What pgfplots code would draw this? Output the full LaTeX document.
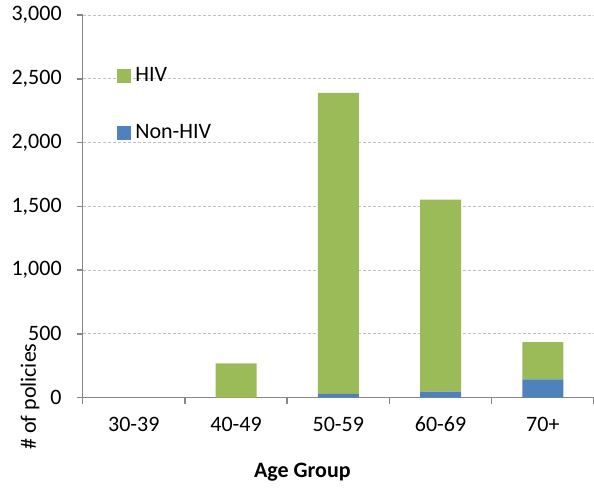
\documentclass[border=0pt]{standalone}
\usepackage{pgfplots}
\pgfplotsset{compat=1.18}
\usepackage{fontspec}
\setmainfont{Carlito}

\definecolor{hivgreen}{RGB}{155,187,89}
\definecolor{nonblue}{RGB}{79,129,189}
\definecolor{axisgray}{RGB}{134,134,134}
\definecolor{gridgray}{RGB}{191,191,191}

\begin{document}
\begin{tikzpicture}[font=\fontsize{11pt}{13pt}\selectfont]
\begin{axis}[
  scale only axis,
  width=255.65pt, height=191.35pt,
  ybar stacked, bar width=0.4,
  xmin=-0.5, xmax=4.5, ymin=0, ymax=3000,
  axis x line*=bottom, axis y line*=left,
  axis line style={axisgray, line width=0.75pt},
  xtick={-0.5,0.5,1.5,2.5,3.5,4.5},
  x tick label as interval,
  xticklabels={30-39,40-49,50-59,60-69,70+},
  ytick={0,500,...,3000},
  /pgf/number format/1000 sep={,},
  /pgf/number format/assume math mode=true,
  tick align=outside,
  major tick length=3pt,
  tick style={axisgray, line width=0.75pt},
  ymajorgrids,
  grid style={gridgray, dash pattern=on 1.5pt off 1pt, line width=0.5pt},
  yticklabel style={xshift=-4pt},
  xticklabel style={yshift=-3pt},
  xlabel={\textbf{Age Group}},
  xlabel style={at={(axis description cs:0.5,0)}, anchor=center, xshift=-18pt, yshift=-37pt},
  ylabel={\# of policies},
  ylabel style={at={(axis description cs:-0.103,0.003)}, anchor=center},
  reverse legend,
  legend cell align=left,
  legend style={at={(axis description cs:0.067,0.875)}, anchor=north west,
    draw=none, fill=none, inner sep=0pt, row sep=16pt},
  legend image code/.code={\fill[#1,draw=none] (0pt,-3.5pt) rectangle (7pt,3.5pt);},
]
% bottom segment: non-HIV policies
\addplot[fill=nonblue, draw=none] coordinates {(0,0) (1,0) (2,30) (3,47) (4,144)};
% top segment: HIV policies
\addplot[fill=hivgreen, draw=none] coordinates {(0,0) (1,270) (2,2360) (3,1505) (4,291)};
\legend{Non-HIV, HIV}
\end{axis}
\pgfresetboundingbox
\path[use as bounding box] ([xshift=-41.35pt,yshift=-45.65pt]current axis.south west)
  rectangle ([yshift=7.5pt]current axis.north east);
\end{tikzpicture}
\end{document}
